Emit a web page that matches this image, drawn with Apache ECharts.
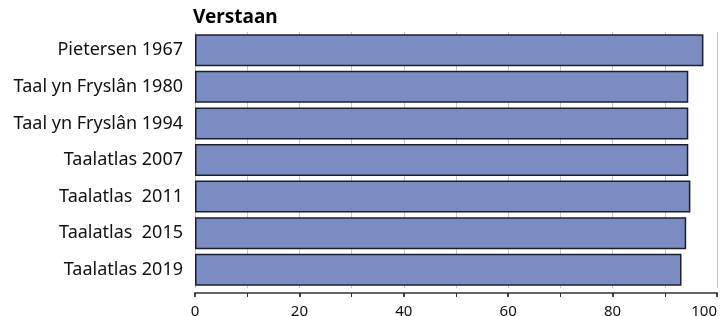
<!DOCTYPE html>
<html>
<head>
<meta charset="utf-8">
<script src="https://cdn.jsdelivr.net/npm/echarts@6/dist/echarts.min.js"></script>
<style>
html, body { margin: 0; padding: 0; background: #fff; }
#chart { width: 722px; height: 316px; }
</style>
</head>
<body>
<div id="chart"></div>
<script>
// categorieën (van boven naar beneden)
var bronnen = ['Pietersen 1967', 'Taal yn Fryslân 1980', 'Taal yn Fryslân 1994', 'Taalatlas 2007', 'Taalatlas  2011', 'Taalatlas  2015', 'Taalatlas 2019'];
// percentage verstaan
var verstaan = [97.4, 94.5, 94.5, 94.5, 94.9, 94.1, 93.2];
var titel = 'Verstaan';

var chart = echarts.init(document.getElementById('chart'));
var option = {
	animation: false,
	textStyle: { fontFamily: 'Noto Sans' },
	title: {
		text: titel,
		left: 188,
		top: 3,
		textStyle: { fontSize: 19, fontWeight: 'bold', color: '#000', fontFamily: 'Noto Sans' }
	},
	grid: {
		left: 195,
		right: 5,
		top: 32,
		bottom: 28,
		outerBoundsMode: 'none',
		containLabel: false
	},
	xAxis: {
		type: 'value',
		min: 0,
		max: 100,
		interval: 20,
		offset: 5,
		axisLine: { show: true, lineStyle: { color: '#666', width: 2 } },
		axisTick: { show: true, length: 4, lineStyle: { color: '#111', width: 1.5 } },
		minorTick: { show: true, splitNumber: 2, length: 4, lineStyle: { color: '#333', width: 1 } },
		splitLine: { show: true, lineStyle: { color: '#c8c8c8', width: 1 } },
		minorSplitLine: { show: true, lineStyle: { color: '#c8c8c8', width: 1 } },
		axisLabel: {
			color: '#111',
			fontSize: 15,
			margin: 11,
			alignMaxLabel: 'right'
		}
	},
	yAxis: {
		type: 'category',
		inverse: true,
		data: bronnen,
		axisLine: { show: false },
		axisTick: { show: false },
		axisLabel: { color: '#111', fontSize: 18, margin: 12 }
	},
	series: [{
		type: 'bar',
		data: verstaan,
		barCategoryGap: '12.5%',
		itemStyle: {
			color: '#7b8cc2',
			borderColor: '#1c1f2e',
			borderWidth: 1.5
		}
	}]
};
chart.setOption(option);
</script>
</body>
</html>
